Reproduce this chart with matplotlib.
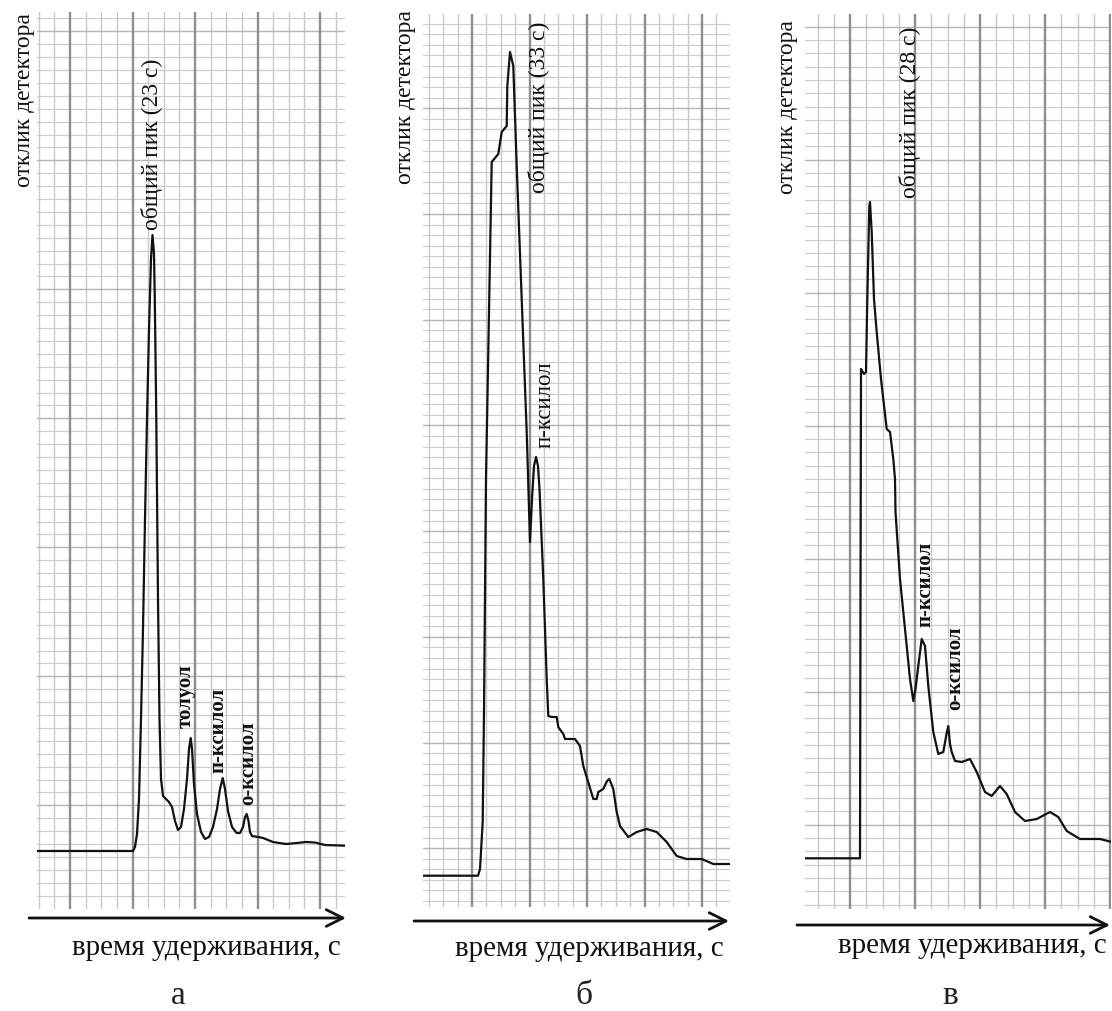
import matplotlib
matplotlib.use("Agg")
import matplotlib.pyplot as plt
import numpy as np

plt.rcParams['font.family'] = ['Liberation Serif', 'DejaVu Serif']

# ---------------- data (chart-paper units: x = recorder time, y = detector response) -------------
time_a = [0, 96, 98, 100, 102, 104, 106, 108, 110, 112, 114, 115.5, 117, 117.8, 119.3, 121, 122.5, 124,
          126, 129, 132, 135, 138, 141, 144, 147, 150, 152, 153.7, 155, 157, 160, 164, 168, 172, 176,
          180, 183, 185.7, 188, 191, 195, 199.7, 203, 206, 208, 209.7, 211.5, 213, 215, 221, 226, 236,
          249, 260, 269, 278, 288, 308]
resp_a = [58, 58, 62, 75, 110, 190, 280, 390, 490, 580, 650, 674, 655, 610, 490, 310, 190, 130,
          113, 110, 107, 102, 88, 79, 82, 100, 130, 160, 171, 160, 125, 95, 77, 70, 72, 82,
          100, 120, 131, 120, 98, 82, 76, 76, 82, 92, 95, 88, 77, 73, 72, 71, 67,
          65, 66, 67, 66.5, 64, 63.3]

time_b = [0, 55, 57, 59.7, 61, 63, 68.7, 75.3, 78.7, 83.7, 84.3, 87, 90.3, 93.7, 98.7, 103.7, 107,
          109, 111, 113, 115, 116.5, 120.3, 123.7, 125.3, 129, 133.7, 135.3, 140.3, 142, 152, 157,
          160.3, 163.7, 170.3, 173.7, 175.3, 180.3, 184, 186.3, 190.3, 193.7, 197, 205.3, 213.7,
          223.7, 233.7, 243.7, 253.7, 263.7, 278.7, 290.3, 307]
resp_b = [31.3, 31.3, 38, 85, 195, 428, 745, 753, 775, 781, 821, 855, 841, 741, 608, 475, 365,
          408, 441, 450, 441, 418, 328, 228, 191, 190, 190, 180, 173, 168, 168, 161,
          141, 130, 108, 108, 115, 118, 126, 128, 118, 95, 81, 70, 75,
          78, 75, 65, 51, 48, 48, 43, 43]

time_c = [0, 55, 55.5, 56, 59, 61, 62.3, 64.3, 65, 66.7, 69, 71.7, 76, 81.7, 85, 88.3, 90, 90.5, 95,
          100, 105, 108.3, 110.5, 113.3, 116.7, 120, 123.3, 128.3, 133.3, 138.3, 141.5, 143.3, 145,
          146.7, 150, 156.7, 165, 171.7, 180, 186.7, 195, 201.7, 210, 220, 231.7, 245, 253.3, 261.7,
          275, 295, 306.7]
resp_c = [50.7, 50.7, 310, 540, 535, 537, 610, 703, 707, 677, 610, 577, 530, 480, 477, 450, 430, 397, 330,
          280, 230, 208, 220, 243, 270, 263, 223, 177, 155, 157, 175, 183, 165,
          157, 148, 147, 150, 137, 117, 113, 123, 115, 97, 88, 90, 97, 92, 78,
          70, 70, 67]

peak_labels_a = ["общий пик (23 с)", "толуол", "п-ксилол", "о-ксилол"]
peak_pos_a = [(115, 680), (149, 182), (181.5, 137), (211.5, 105)]
peak_labels_b = ["общий пик (33 с)", "п-ксилол"]
peak_pos_b = [(116, 715), (122, 460)]
peak_labels_c = ["общий пик (28 с)", "п-ксилол", "о-ксилол"]
peak_pos_c = [(105, 712), (120, 283), (150, 200)]

y_label = "отклик детектора"
x_label = "время удерживания, с"
panel_letters = ["а", "б", "в"]

# ---------------- layout ----------------
W, H = 1112, 1012
fig = plt.figure(figsize=(W / 100, H / 100), dpi=100)

# panel boxes in pixels: left, top, right, bottom
boxes = [(37, 13, 345, 910), (423, 15, 730, 908), (805, 15, 1111, 910)]
# grid: (first vertical major, vertical minor step, horizontal major ref, horizontal minor step)
grids = [(33, 15.625, 490.7, 12.9), (49, 14.375, 693, 10.57), (45, 16.25, 483.3, 13.3)]


def make_axes(box):
    l, t, r, b = box
    ax = fig.add_axes([l / W, 1 - b / H, (r - l) / W, (b - t) / H])
    ax.set_xlim(0, r - l)
    ax.set_ylim(0, b - t)
    for s in ax.spines.values():
        s.set_visible(False)
    ax.tick_params(which='both', length=0, labelbottom=False, labelleft=False)
    return ax


def paper_grid(ax, box, g):
    l, t, r, b = box
    wdt, hgt = r - l, b - t
    vmaj, vstep, hmaj, hstep = g
    jv = np.arange(-10, 40)
    xs = vmaj + vstep * jv
    keep = (xs > 0.5) & (xs < wdt - 0.3)
    xs, jv = xs[keep], jv[keep]
    jh = np.arange(-80, 80)
    ys = hmaj + hstep * jh
    keeph = (ys > 0.5) & (ys < hgt - 0.5)
    ys, jh = ys[keeph], jh[keeph]
    for x, j in zip(xs, jv):
        if j % 4 == 0:
            ax.axvline(x, color='#8e8e8e', lw=1.7, zorder=1)
        else:
            ax.axvline(x, color='#c8c8c8', lw=1.0, zorder=0.5)
    for y, j in zip(ys, jh):
        if j % 10 == 0:
            ax.axhline(y, color='#b6b6b6', lw=1.0, zorder=0.8)
        else:
            ax.axhline(y, color='#cdcdcd', lw=0.9, zorder=0.5)


series = [(time_a, resp_a), (time_b, resp_b), (time_c, resp_c)]
labels = [(peak_labels_a, peak_pos_a, [False, True, True, True]),
          (peak_labels_b, peak_pos_b, [False, False]),
          (peak_labels_c, peak_pos_c, [False, True, True])]

for box, g, (tx, ry), (labs, poss, bolds) in zip(boxes, grids, series, labels):
    ax = make_axes(box)
    paper_grid(ax, box, g)
    ax.plot(tx, ry, color='#111111', lw=1.6, zorder=3, solid_joinstyle='round')
    for lab, (px, py), bold in zip(labs, poss, bolds):
        size = 15 if bold else (17 if lab.startswith("общий") else 16.5)
        ax.text(px, py, lab, rotation=90, ha='center', va='bottom',
                fontsize=size, fontweight='bold' if bold else 'normal',
                color='#111111', zorder=4)

# y-axis captions
for xc, yt in [(25, 13), (405, 10), (788, 20)]:
    fig.text(xc / W, 1 - yt / H, y_label, rotation=90, ha='center', va='top',
             fontsize=17, color='#111111')

# time arrows
for x0, x1, ya in [(29, 346, 919), (414, 729, 922), (797, 1110, 926)]:
    fig.add_artist(matplotlib.patches.FancyArrowPatch(
        (x0 / W, 1 - ya / H), (x1 / W, 1 - ya / H), transform=fig.transFigure,
        arrowstyle='->,head_length=0.6,head_width=0.3', mutation_scale=20,
        lw=2.0, color='#111111', shrinkA=0, shrinkB=0))

# x-axis captions
for xl, yb in [(72, 955), (455, 956), (838, 953)]:
    fig.text(xl / W, 1 - yb / H, x_label, ha='left', va='baseline',
             fontsize=21, color='#111111')

# panel letters
for letter, xc in zip(panel_letters, [178, 584, 950]):
    fig.text(xc / W, 1 - 1004 / H, letter, ha='center', va='baseline', fontsize=24, color='#222222')

fig.savefig("out.png", dpi=100)
